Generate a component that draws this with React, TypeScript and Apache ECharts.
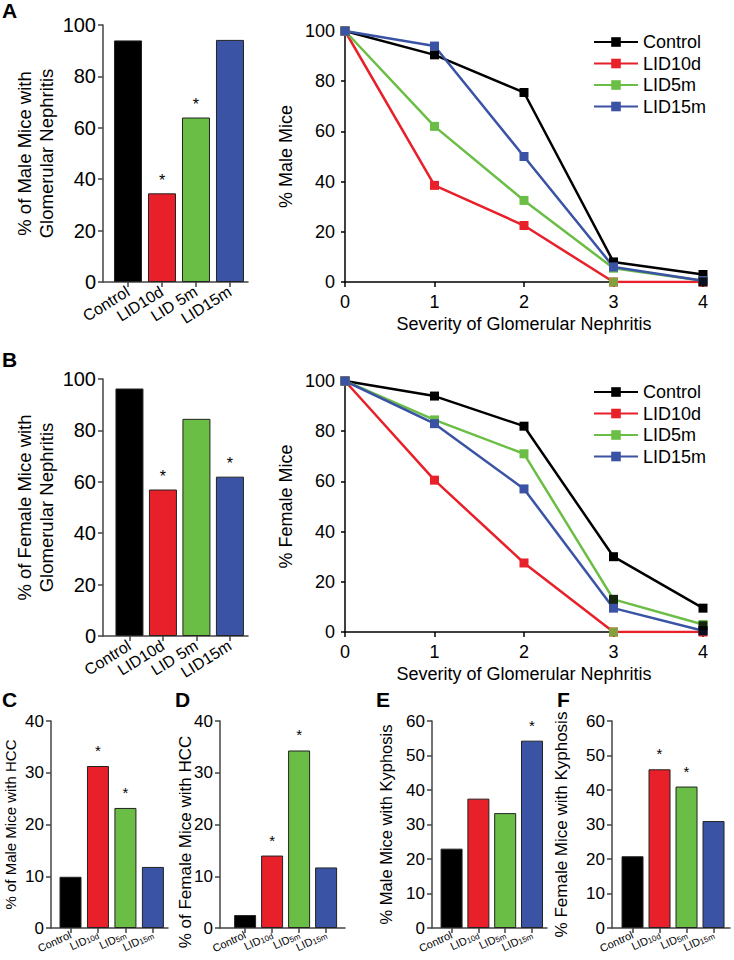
import React, { useEffect, useRef } from "react";
import * as echarts from "echarts";

const FONT = "'Liberation Sans', Arial, sans-serif";

const barCats = ["Control", "LID10d", "LID 5m", "LID15m"];
const barCatsSub = ["Control", "LID{s|10d}", "LID{s|5m}", "LID{s|15m}"];
const barColors = ["#000000", "#E8202A", "#6BBE45", "#3A53A4"];

const maleGN = [94, 34.5, 64, 94.2];
const maleGNSig = [0, 1, 1, 0];
const femaleGN = [96.3, 57, 84.5, 62];
const femaleGNSig = [0, 1, 0, 1];
const maleHCC = [9.9, 31.3, 23.2, 11.8];
const maleHCCSig = [0, 1, 1, 0];
const femaleHCC = [2.5, 14, 34.3, 11.7];
const femaleHCCSig = [0, 1, 1, 0];
const maleKyph = [23, 37.5, 33.3, 54.3];
const maleKyphSig = [0, 0, 0, 1];
const femaleKyph = [20.8, 46, 41, 31];
const femaleKyphSig = [0, 1, 1, 0];

const lineNames = ["Control", "LID10d", "LID5m", "LID15m"];
const severity = [0, 1, 2, 3, 4];
const maleControl = [100, 90.5, 75.5, 8, 3];
const maleLID10d = [100, 38.5, 22.5, 0, 0];
const maleLID5m = [100, 62, 32.5, 5.5, 0.5];
const maleLID15m = [100, 94, 50, 6, 0.5];
const femaleControl = [100, 94, 82, 30, 9.5];
const femaleLID10d = [100, 60.5, 27.5, 0, 0];
const femaleLID5m = [100, 84.5, 71, 13, 3];
const femaleLID15m = [100, 83, 57, 9.5, 0.5];
// stray markers visible in the original figure
const maleExtraBlack = [[4, 0]];
const maleExtraGreen = [[3, 0]];
const femaleExtraBlack = [[3, 13], [4, 2.5], [4, 0.5]];
const femaleExtraGreen = [[3, 0]];

export default function App() {
  const ref = useRef<HTMLDivElement>(null);
  useEffect(() => {
    document.body.style.margin = "0";
    const chart = echarts.init(ref.current!, null, { renderer: "svg" });
    const barAxisColor = "#444";

    const grids = [
      { left: 103, top: 25, width: 145, height: 257 }, // A bar
      { left: 345, top: 31, width: 358, height: 251 }, // A line
      { left: 103, top: 379, width: 145, height: 257 }, // B bar
      { left: 345, top: 381, width: 358, height: 251 }, // B line
      { left: 51, top: 721, width: 117, height: 207 }, // C
      { left: 220, top: 721, width: 125, height: 207 }, // D
      { left: 432, top: 721, width: 115, height: 207 }, // E
      { left: 612, top: 721, width: 118, height: 207 }, // F
    ];

    const barX = (gi: number, min: number, max: number, big: boolean) => ({
      gridIndex: gi,
      type: "value",
      min,
      max,
      splitLine: { show: false },
      axisLine: { show: true, onZero: false, lineStyle: { color: barAxisColor, width: 1.5 } },
      axisTick: { show: true, customValues: [0, 1, 2, 3], length: 5, lineStyle: { color: barAxisColor, width: 1.5 } },
      axisLabel: big
        ? {
            customValues: [0, 1, 2, 3],
            formatter: (v: number) => barCats[Math.round(v)],
            rotate: 32,
            fontSize: 16,
            margin: 8,
            color: "#000",
            fontFamily: FONT,
          }
        : {
            customValues: [0, 1, 2, 3],
            formatter: (v: number) => barCatsSub[Math.round(v)],
            rotate: 25,
            fontSize: 11,
            margin: 6,
            color: "#000",
            fontFamily: FONT,
            rich: { s: { fontSize: 8, verticalAlign: "bottom", padding: [4, 0, 0, 0], fontFamily: FONT } },
          },
    });

    const barY = (gi: number, max: number, interval: number, name: string, nameGap: number, nameSize: number, lh: number, labelSize: number, margin: number) => ({
      gridIndex: gi,
      type: "value",
      min: 0,
      max,
      interval,
      name,
      nameLocation: "middle",
      nameGap,
      nameTextStyle: { fontSize: nameSize, lineHeight: lh, color: "#000", fontFamily: FONT },
      splitLine: { show: false },
      axisLine: { show: true, onZero: false, lineStyle: { color: barAxisColor, width: 1.5 } },
      axisTick: { show: true, length: 5, lineStyle: { color: barAxisColor, width: 1.5 } },
      axisLabel: { fontSize: labelSize, margin, color: "#000", fontFamily: FONT },
    });

    const lineX = (gi: number) => ({
      gridIndex: gi,
      type: "value",
      min: 0,
      max: 4,
      interval: 1,
      name: "Severity of Glomerular Nephritis",
      nameLocation: "middle",
      nameGap: 33,
      nameTextStyle: { fontSize: 18, color: "#000", fontFamily: FONT },
      splitLine: { show: false },
      axisLine: { show: true, onZero: false, lineStyle: { color: "#000", width: 1.5 } },
      axisTick: { show: true, length: 5, lineStyle: { color: "#000", width: 1.5 } },
      axisLabel: { fontSize: 18, margin: 11, color: "#000", fontFamily: FONT },
    });
    const lineY = (gi: number, name: string) => ({
      gridIndex: gi,
      type: "value",
      min: 0,
      max: 100,
      interval: 20,
      name,
      nameLocation: "middle",
      nameGap: 50,
      nameTextStyle: { fontSize: 18, color: "#000", fontFamily: FONT },
      splitLine: { show: false },
      axisLine: { show: true, onZero: false, lineStyle: { color: "#000", width: 1.5 } },
      axisTick: { show: true, length: 4, lineStyle: { color: "#000", width: 1.5 } },
      axisLabel: { fontSize: 18, margin: 10, color: "#000", fontFamily: FONT },
    });

    const barSeries = (gi: number, name: string, vals: number[], sig: number[], width: number, starSize: number, dist: number) => ({
      type: "bar",
      name,
      xAxisIndex: gi,
      yAxisIndex: gi,
      barWidth: width,
      data: vals.map((v, i) => ({
        value: [i, v],
        itemStyle: { color: barColors[i], borderColor: "#222", borderWidth: 1 },
        label: { show: sig[i] === 1 },
      })),
      label: { position: "top", formatter: "*", fontSize: starSize, distance: dist, color: "#000", fontFamily: FONT },
    });

    const lineColors = ["#000000", "#E8202A", "#6BBE45", "#3A53A4"];
    const lineSeries = (gi: number, sets: number[][]) =>
      sets.map((vals, k) => ({
        type: "line",
        name: lineNames[k],
        xAxisIndex: gi,
        yAxisIndex: gi,
        symbol: "rect",
        symbolSize: 9,
        color: lineColors[k],
        lineStyle: { width: 2.5, color: lineColors[k] },
        itemStyle: { color: lineColors[k] },
        data: severity.map((s, i) => [s, vals[i]]),
      }));
    const extraSeries = (gi: number, pts: number[][], color: string, nm: string) => ({
      type: "scatter",
      name: nm,
      xAxisIndex: gi,
      yAxisIndex: gi,
      symbol: "rect",
      symbolSize: 9,
      itemStyle: { color },
      z: 5,
      data: pts,
    });

    const legend = (top: number) => ({
      data: lineNames,
      orient: "vertical",
      left: 588,
      top,
      itemWidth: 44,
      itemHeight: 12,
      itemGap: 3.5,
      selectedMode: false,
      textStyle: { fontSize: 18, lineHeight: 18, color: "#000", fontFamily: FONT },
    });

    const letter = (t: string, x: number, y: number) => ({
      type: "text",
      left: x,
      top: y,
      style: { text: t, fontSize: 21, fontWeight: "bold", fill: "#000", fontFamily: FONT },
    });

    chart.setOption({
      animation: false,
      backgroundColor: "#fff",
      textStyle: { fontFamily: FONT },
      grid: grids,
      legend: [legend(28), legend(378)],
      xAxis: [
        barX(0, -0.735, 3.53, true),
        lineX(1),
        barX(2, -0.79, 3.54, true),
        lineX(3),
        barX(4, -0.71, 3.55, false),
        barX(5, -0.93, 3.7, false),
        barX(6, -0.73, 3.56, false),
        barX(7, -0.76, 3.61, false),
      ],
      yAxis: [
        barY(0, 100, 20, "% of Male Mice with\nGlomerular Nephritis", 46, 18.5, 22, 20, 7),
        lineY(1, "% Male Mice"),
        barY(2, 100, 20, "% of Female Mice with\nGlomerular Nephritis", 46, 18.5, 22, 20, 7),
        lineY(3, "% Female Mice"),
        barY(4, 40, 10, "% of Male Mice with HCC", 32, 15, 18, 17, 7),
        barY(5, 40, 10, "", 27, 17, 18, 17, 7),
        barY(6, 60, 10, "% Male Mice with Kyphosis", 37, 16.5, 18, 17, 7),
        barY(7, 60, 10, "% Female Mice with Kyphosis", 42, 17, 18, 17, 7),
      ],
      series: [
        barSeries(0, "Male GN", maleGN, maleGNSig, 28, 16, 5),
        ...lineSeries(1, [maleControl, maleLID10d, maleLID5m, maleLID15m]),
        extraSeries(1, maleExtraBlack, "#000000", "extraA1"),
        extraSeries(1, maleExtraGreen, "#6BBE45", "extraA2"),
        barSeries(2, "Female GN", femaleGN, femaleGNSig, 28, 16, 5),
        ...lineSeries(3, [femaleControl, femaleLID10d, femaleLID5m, femaleLID15m]),
        extraSeries(3, femaleExtraBlack, "#000000", "extraB1"),
        extraSeries(3, femaleExtraGreen, "#6BBE45", "extraB2"),
        barSeries(4, "Male HCC", maleHCC, maleHCCSig, 22, 15, 8),
        barSeries(5, "Female HCC", femaleHCC, femaleHCCSig, 22, 15, 8),
        barSeries(6, "Male Kyphosis", maleKyph, maleKyphSig, 22, 15, 8),
        barSeries(7, "Female Kyphosis", femaleKyph, femaleKyphSig, 22, 15, 8),
      ],
      graphic: [
        letter("A", 2, 0),
        letter("B", 2, 349),
        letter("C", 2, 689),
        letter("D", 175, 689),
        letter("E", 376, 689),
        letter("F", 557, 689),
        {
          type: "text",
          x: 185,
          y: 842,
          rotation: Math.PI / 2,
          style: { text: "% of Female Mice with HCC", fontSize: 17, fill: "#000", fontFamily: FONT, textAlign: "center", textVerticalAlign: "middle" },
        },
      ],
    });
    return () => chart.dispose();
  }, []);
  return <div ref={ref} style={{ position: "absolute", left: 0, top: 0, width: 734, height: 960 }} />;
}
